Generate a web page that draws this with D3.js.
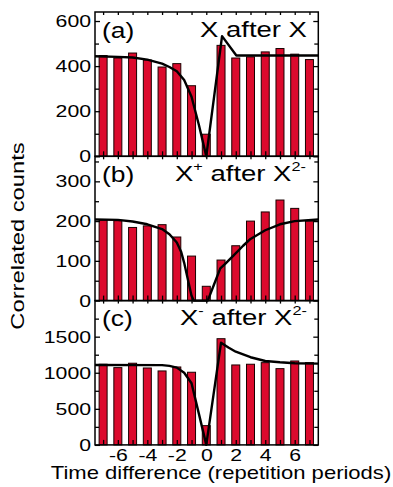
<!DOCTYPE html>
<html>
<head>
<meta charset="utf-8">
<script src="https://cdn.jsdelivr.net/npm/d3@7"></script>
<style>
  html, body { margin: 0; padding: 0; background: #fff; }
  text { font-family: "Liberation Sans", Arial, Helvetica, sans-serif; fill: #000; }
</style>
</head>
<body>
<svg id="chart" width="393" height="487"></svg>
<script>
// Time lag between events, in repetition periods
const lags = [-7, -6, -5, -4, -3, -2, -1, 0, 1, 2, 3, 4, 5, 6, 7];

// Correlated counts per lag
const countsA = [447, 436, 458, 427, 396, 411, 313, 98, 492, 436, 441, 463, 478, 453, 429];
const countsB = [203, 201, 184, 188, 191, 160, 112, 36, 102, 138, 200, 223, 253, 232, 200];
const countsC = [1118, 1071, 1132, 1066, 1025, 1080, 1007, 267, 1472, 1108, 1118, 1140, 1057, 1163, 1140];

// Model curves as [lag, counts]
const fitA = [[-7.55, 444], [-6, 441], [-5, 438], [-4, 429], [-3, 411], [-2.5, 396], [-2, 377],
              [-1.5, 338], [-1, 264], [-0.5, 139], [0, 0], [1.07, 533], [2.04, 447], [7.6, 447]];
const fitB = [[-7.55, 204], [-6, 203], [-5, 199], [-4, 192], [-3, 180], [-2.5, 167], [-2, 146],
              [-1.7, 122], [-1.5, 95], [-1.2, 45], [-1.0, 12], [-0.85, 0], [0.1, 0], [0.5, 38],
              [0.95, 81], [1.3, 93], [1.84, 113], [2.5, 138], [3, 155], [4, 177], [5, 192],
              [6, 200], [7.6, 204]];
const fitC = [[-7.55, 1108], [-3, 1105], [-2.5, 1095], [-2, 1071], [-1.5, 1000], [-1, 855],
              [-0.5, 430], [0, 0], [1.0, 1417], [1.5, 1350], [2, 1292], [3, 1215], [4, 1163],
              [5, 1145], [6, 1132], [7.6, 1126]];

// Axis ticks
const xTickLabels = [-6, -4, -2, 0, 2, 4, 6];
const yMajorA = [0, 200, 400, 600],  yMinorA = [100, 300, 500];
const yMajorB = [0, 100, 200, 300],  yMinorB = [50, 150, 250, 350];
const yMajorC = [0, 500, 1000, 1500], yMinorC = [250, 750, 1250, 1750];
const yMaxA = 640, yMaxB = 363, yMaxC = 2000;

// Panel titles: [prefix, base, superscript, middle, superscript]
const titleA = ["(a)", "X", "", " after X", ""];
const titleB = ["(b)", "X", "+", " after X", "2-"];
const titleC = ["(c)", "X", "-", " after X", "2-"];

const svg = d3.select("#chart");
const plotL = 95, plotR = 318.3, plotT = 12, panelH = 144.3;
const SX = 1.25; // horizontal widening of the lettering

const x = d3.scaleLinear().domain([-7.55, 7.6]).range([plotL, plotR]);
const barW = 8;

const panels = [
  { counts: countsA, fit: fitA, max: yMaxA, major: yMajorA, minor: yMinorA, title: titleA },
  { counts: countsB, fit: fitB, max: yMaxB, major: yMajorB, minor: yMinorB, title: titleB },
  { counts: countsC, fit: fitC, max: yMaxC, major: yMajorC, minor: yMinorC, title: titleC }
];

panels.forEach((p, i) => {
  const y0 = plotT + panelH * (i + 1), y1 = plotT + panelH * i;
  const y = d3.scaleLinear().domain([0, p.max]).range([y0, y1]);
  const g = svg.append("g");

  // bars
  g.selectAll("rect.bar").data(lags).join("rect")
    .attr("class", "bar")
    .attr("x", d => x(d) - barW / 2)
    .attr("width", barW)
    .attr("y", (d, k) => y(p.counts[k]))
    .attr("height", (d, k) => y0 - y(p.counts[k]))
    .attr("fill", "#dc0a2d")
    .attr("stroke", "#1a0000")
    .attr("stroke-width", 1);

  // model curve
  const line = d3.line().x(d => x(d[0])).y(d => y(d[1])).curve(d3.curveLinear);
  g.append("path").datum(p.fit)
    .attr("d", line)
    .attr("fill", "none")
    .attr("stroke", "#000")
    .attr("stroke-width", 2.4)
    .attr("stroke-linejoin", "round");

  // inward ticks
  const styleAxis = sel => {
    sel.select(".domain").remove();
    sel.selectAll("line").attr("stroke", "#000").attr("stroke-width", 1.3);
  };
  const yl = g.append("g").attr("transform", `translate(${plotL},0)`)
    .call(d3.axisLeft(y).tickValues(p.major).tickSize(-5).tickPadding(3.2).tickFormat(d3.format("d")))
    .call(styleAxis);
  yl.selectAll("text")
    .attr("font-size", 17)
    .attr("transform", `scale(${SX},1)`)
    .style("font-family", '"Liberation Sans", Arial, sans-serif');
  g.append("g").attr("transform", `translate(${plotL},0)`)
    .call(d3.axisLeft(y).tickValues(p.minor).tickSize(-4).tickFormat(""))
    .call(styleAxis);
  g.append("g").attr("transform", `translate(${plotR},0)`)
    .call(d3.axisRight(y).tickValues(p.major).tickSize(-5).tickFormat(""))
    .call(styleAxis);
  g.append("g").attr("transform", `translate(${plotR},0)`)
    .call(d3.axisRight(y).tickValues(p.minor).tickSize(-4).tickFormat(""))
    .call(styleAxis);
  g.append("g").attr("transform", `translate(0,${y1})`)
    .call(d3.axisTop(x).tickValues(lags).tickSize(-3).tickFormat(""))
    .call(styleAxis);
  const xb = g.append("g").attr("transform", `translate(0,${y0})`)
    .call(d3.axisBottom(x).tickValues(lags).tickSize(-5).tickPadding(4.5)
      .tickFormat(d => (i === 2 && xTickLabels.includes(d)) ? String(d) : ""))
    .call(styleAxis);
  xb.selectAll("text")
    .attr("font-size", 17)
    .attr("transform", `scale(${SX},1)`)
    .style("font-family", '"Liberation Sans", Arial, sans-serif');

  // frame
  g.append("rect")
    .attr("x", plotL).attr("y", y1)
    .attr("width", plotR - plotL).attr("height", y0 - y1)
    .attr("fill", "none").attr("stroke", "#000").attr("stroke-width", 1.5);

  // panel letter
  const [tag, b1, s1, mid, s2] = p.title;
  g.append("text")
    .attr("transform", `translate(102,${y1 + 25.5}) scale(1.2,1)`)
    .attr("font-size", 22)
    .text(tag);

  // panel title with charge superscripts
  const tx = [200, 175, 180][i];
  const t = g.append("text")
    .attr("transform", `translate(${tx},${y1 + 24.5}) scale(${SX},1)`)
    .attr("font-size", 22);
  t.append("tspan").text(b1);
  if (s1) t.append("tspan").attr("font-size", 13).attr("dy", -10).text(s1);
  t.append("tspan").attr("dy", s1 ? 10 : 0).text(mid);
  if (s2) t.append("tspan").attr("font-size", 13).attr("dy", -10).text(s2);
});

// axis titles
svg.append("text")
  .attr("transform", `translate(221,479) scale(1.26,1)`)
  .attr("text-anchor", "middle")
  .attr("font-size", 17.5)
  .text("Time difference (repetition periods)");

svg.append("text")
  .attr("transform", `translate(24,236) rotate(-90) scale(1.32,1)`)
  .attr("text-anchor", "middle")
  .attr("font-size", 18)
  .text("Correlated counts");
</script>
</body>
</html>
